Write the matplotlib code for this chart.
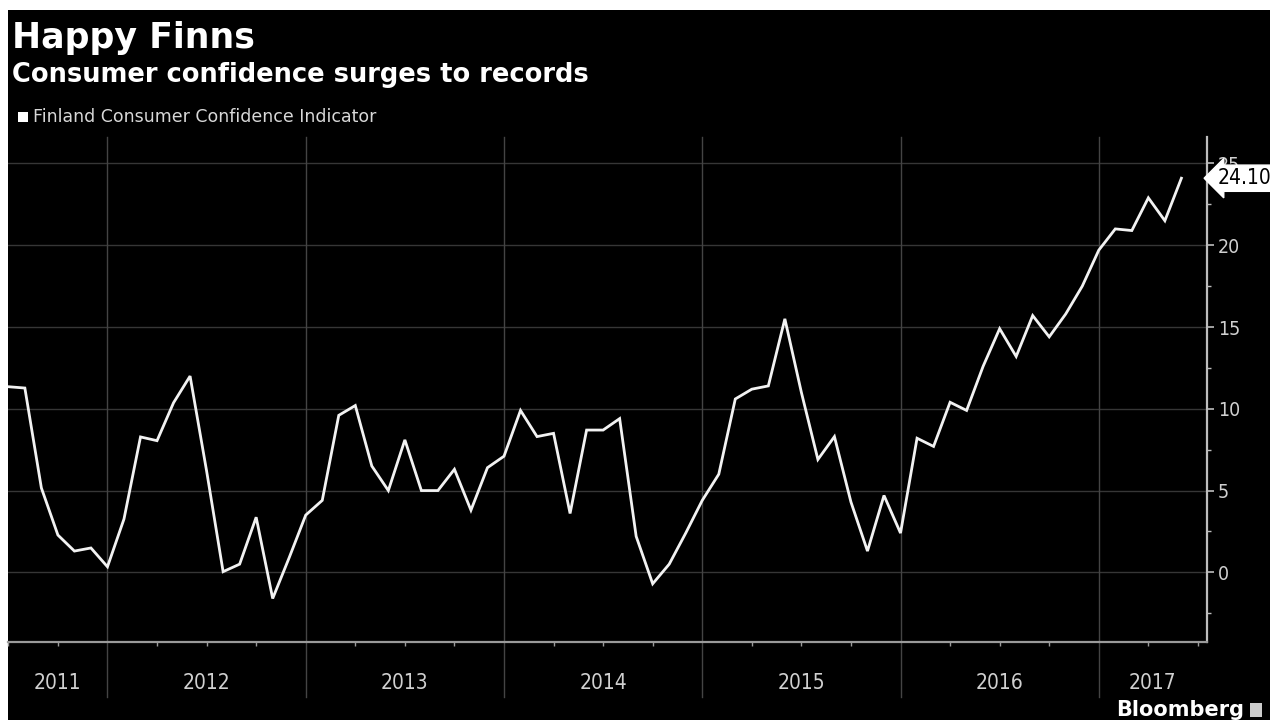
import matplotlib
matplotlib.use("Agg")
import matplotlib.pyplot as plt
import matplotlib.transforms as mtransforms
from matplotlib.patches import Rectangle

# ---- data (monthly, Jul 2011 .. Jun 2017) ----
start_month_index = 6  # months since Jan 2011 -> Jul 2011
values = [
    11.35, 11.27, 5.16, 2.28, 1.30, 1.49,                               # 2011 Jul-Dec
    0.34, 3.26, 8.28, 8.05, 10.37, 12.0, 6.2, 0.04, 0.5, 3.37, -1.6, 0.9,  # 2012
    3.5, 4.4, 9.6, 10.2, 6.5, 5.0, 8.1, 5.0, 5.0, 6.3, 3.8, 6.4,         # 2013
    7.1, 9.9, 8.3, 8.5, 3.6, 8.7, 8.7, 9.4, 2.2, -0.7, 0.5, 2.4,         # 2014
    4.4, 6.0, 10.6, 11.2, 11.4, 15.5, 11.0, 6.9, 8.3, 4.3, 1.3, 4.7,     # 2015
    2.4, 8.2, 7.7, 10.4, 9.9, 12.6, 14.9, 13.2, 15.7, 14.4, 15.8, 17.5,  # 2016
    19.7, 21.0, 20.9, 22.9, 21.5, 24.1,                                  # 2017 Jan-Jun
]
years = [2011, 2012, 2013, 2014, 2015, 2016, 2017]
y_ticks = [0, 5, 10, 15, 20, 25]
last_label = "24.10"
title = "Happy Finns"
subtitle = "Consumer confidence surges to records"
legend_label = "Finland Consumer Confidence Indicator"

x = [start_month_index + i for i in range(len(values))]

W, H = 1270, 720
fig = plt.figure(figsize=(W / 100, H / 100), dpi=100, facecolor="white")
fig.patches.append(Rectangle((8 / W, 0), 1 - 8 / W, 710 / H, transform=fig.transFigure,
                             facecolor="black", edgecolor="none", zorder=-10))

left, right, top, bottom = 8, 1207, 137, 642
ax = fig.add_axes([left / W, 1 - bottom / H, (right - left) / W, (bottom - top) / H])
ax.set_facecolor("black")

ax.plot(x, values, color="#f2f2f2", lw=2.0, zorder=5, solid_joinstyle="miter")

xmin, xmax = 5.98, 78.55
ax.set_xlim(xmin, xmax)
ax.set_ylim(-4.26, 26.62)

grid_c = "#363636"
for yt in y_ticks:
    ax.axhline(yt, color=grid_c, lw=1.0, zorder=1)

blend = mtransforms.blended_transform_factory(ax.transData, ax.transAxes)
for yr in years[1:]:
    xb = (yr - 2011) * 12
    ax.plot([xb, xb], [1, -0.109], transform=blend, color="#444444", lw=1.0,
            clip_on=False, zorder=1)

# year labels centered within their spans
for yr in years:
    a = max((yr - 2011) * 12, xmin)
    b = min((yr - 2011) * 12 + 12, xmax)
    ax.text((a + b) / 2, -0.081, str(yr), transform=blend, ha="center", va="center",
            color="#d0d0d0", fontsize=15, fontstretch="condensed")

# spines
for s in ["top", "left"]:
    ax.spines[s].set_visible(False)
ax.spines["bottom"].set_color("#9a9a9a")
ax.spines["bottom"].set_linewidth(1.6)
ax.spines["right"].set_color("#bdbdbd")
ax.spines["right"].set_linewidth(1.6)

# x ticks: quarterly minor ticks
qt = [m for m in range(6, 79, 3) if m % 12 != 0]
ax.set_xticks(qt)
ax.set_xticklabels([])
ax.tick_params(axis="x", which="major", length=3, width=1, color="#9a9a9a", direction="out")

# y axis on right
ax.yaxis.tick_right()
ax.set_yticks(y_ticks)
ax.set_yticklabels([str(v) for v in y_ticks])
ax.set_yticks([v + 2.5 for v in y_ticks[:-1]] + [-2.5], minor=True)
ax.tick_params(axis="y", which="major", length=5, width=1.2, color="#bdbdbd",
               labelcolor="#d0d0d0", labelsize=14, pad=3)
ax.tick_params(axis="y", which="minor", length=3, width=1, color="#bdbdbd")
for lab in ax.get_yticklabels():
    lab.set_fontstretch("condensed")

# last value tag (covers the top tick label, as in the original)
ax.annotate(last_label, xy=(1.0, values[-1]), xycoords=("axes fraction", "data"),
            xytext=(8, 0), textcoords="offset points", ha="left", va="center",
            fontsize=15, color="black", fontstretch="condensed",
            bbox=dict(boxstyle="larrow,pad=0.15", fc="white", ec="white"),
            annotation_clip=False, zorder=20)

# titles
fig.text(12 / W, 1 - 38 / H, title, color="white", fontsize=25, fontweight="bold",
         va="center", ha="left")
fig.text(12 / W, 1 - 75 / H, subtitle, color="white", fontsize=18.5, fontweight="bold",
         va="center", ha="left")
fig.patches.append(Rectangle((18 / W, 1 - 122 / H), 10 / W, 10 / H, transform=fig.transFigure,
                             facecolor="white", edgecolor="none"))
fig.text(33 / W, 1 - 117 / H, legend_label, color="#d8d8d8", fontsize=12.5,
         va="center", ha="left")

# source mark
fig.text(1244 / W, 1 - 710 / H, "Bloomberg", color="white", fontsize=15, fontweight="bold",
         va="center", ha="right")
fig.patches.append(Rectangle((1250 / W, 1 - 717 / H), 12 / W, 14 / H, transform=fig.transFigure,
                             facecolor="#cccccc", edgecolor="none"))

fig.savefig("out.png", dpi=100, facecolor="white")
